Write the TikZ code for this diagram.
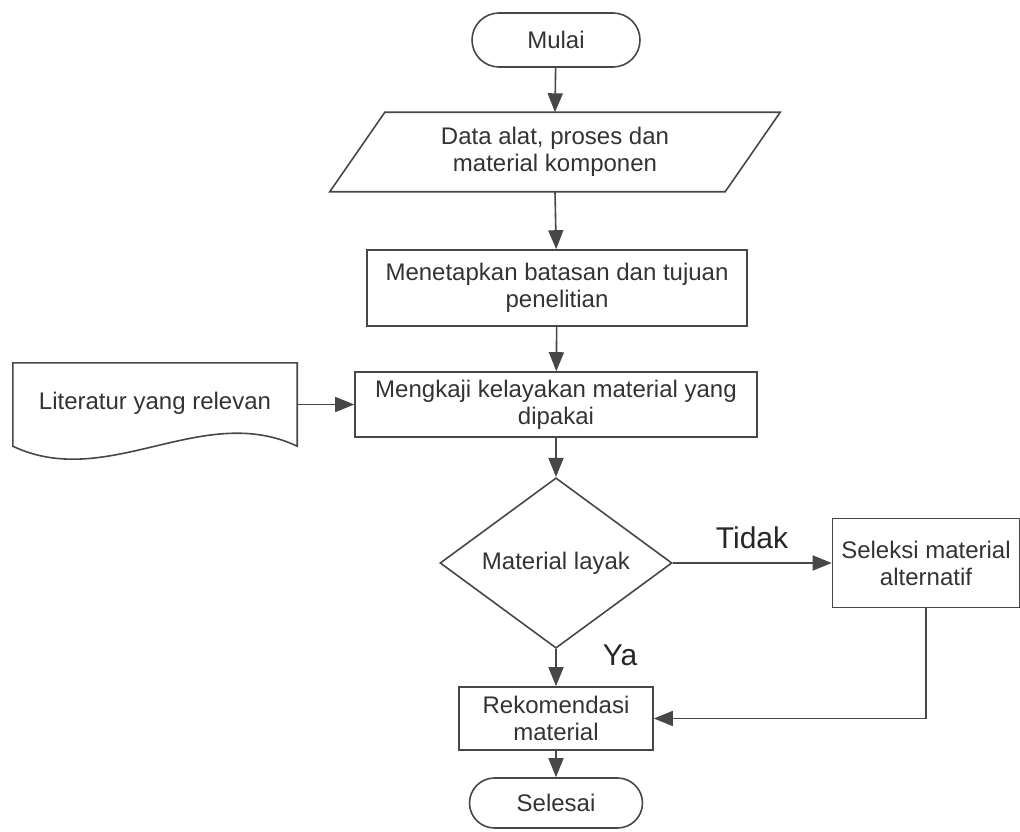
\documentclass[tikz,border=0pt]{standalone}
\usepackage{fontspec}
\setmainfont{Liberation Sans}
\usetikzlibrary{shapes.geometric,shapes.misc,arrows.meta}
\begin{document}
\begin{tikzpicture}[x=1pt,y=-1pt,
  every node/.style={font=\fontsize{24}{27}\selectfont, text=black!80, align=center, inner sep=0pt},
  ln/.style={draw=black!72, line width=1.6pt},
  arr/.style={ln, -{Triangle[length=19pt,width=15pt]}},
  term/.style={rounded rectangle, ln},
  proc/.style={rectangle, ln},
  lbl/.style={font=\fontsize{30}{32}\selectfont, text=black!85}
]
\useasboundingbox (0,0) rectangle (1020,832);

\node[term, minimum width=168pt, minimum height=54pt] (mulai) at (556,40) {Mulai};

\node[minimum width=395pt, minimum height=79pt] (data) at (555,152) {Data alat, proses dan\\material komponen};
\draw[ln] ([xshift=27.5pt]data.north west) -- ([xshift=27.5pt]data.north east)
  -- ([xshift=-27.5pt]data.south east) -- ([xshift=-27.5pt]data.south west) -- cycle;

\node[proc, minimum width=380pt, minimum height=76pt] (tetap) at (557,288) {Menetapkan batasan dan tujuan\\penelitian};

\node[proc, minimum width=402pt, minimum height=65pt] (kaji) at (556,404.5) {Mengkaji kelayakan material yang\\dipakai};

\node[minimum width=284pt, minimum height=83pt] (lit) at (155,404.5) {\raisebox{7pt}{Literatur yang relevan}};
\draw[ln] (lit.north west) -- (lit.north east) -- (lit.south east)
  .. controls ([xshift=-95pt,yshift=45pt]lit.south east) and ([xshift=95pt,yshift=-45pt]lit.south west) .. (lit.south west) -- cycle;

\node[diamond, ln, minimum width=232pt, minimum height=137pt] (dec) at (556,563) {Material layak};

\node[proc, minimum width=187pt, minimum height=89pt] (sel) at (926,563) {Seleksi material\\alternatif};

\node[proc, minimum width=194pt, minimum height=63pt] (rek) at (556,718.5) {Rekomendasi\\material};

\node[term, minimum width=173pt, minimum height=50pt] (end) at (556,803) {Selesai};

\node[lbl] (tidak) at (752,538) {Tidak};
\node[lbl] (ya) at (620,655) {Ya};

\draw[arr] (mulai) -- (data.north);
\draw[arr] (data.south) -- (tetap);
\draw[arr] (tetap) -- (kaji);
\draw[arr] (lit.east) -- (kaji.west);
\draw[arr] (kaji) -- (dec);
\draw[arr] (dec.east) -- (sel.west);
\draw[arr] (dec.south) -- (rek.north);
\draw[arr] (sel.south) |- (rek.east);
\draw[arr] (rek) -- (end);
\end{tikzpicture}
\end{document}
